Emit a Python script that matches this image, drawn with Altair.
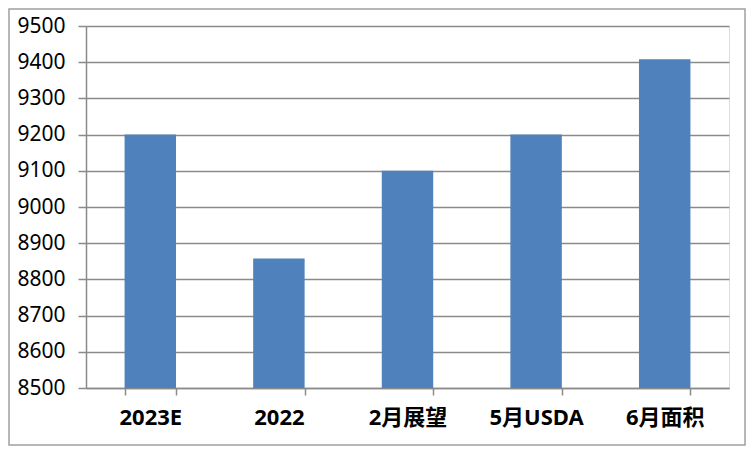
import altair as alt
import pandas as pd

categories = ["2023E", "2022", "2月展望", "5月USDA", "6月面积"]
values = [9200, 8858, 9100, 9200, 9408]
y_ticks = [8500, 8600, 8700, 8800, 8900, 9000, 9100, 9200, 9300, 9400, 9500]

df = pd.DataFrame({"cat": categories, "val": values})

W, H = 643, 362
PL, PT = 78, 18
TOTAL_W, TOTAL_H = 738, 438

bars = alt.Chart(df).mark_bar(color="#4F81BD", clip=True).encode(
    x=alt.X("cat:N", sort=categories, title=None,
            scale=alt.Scale(paddingInner=0.6, paddingOuter=0.3),
            axis=alt.Axis(labelAngle=0, labelFont="Noto Sans, Noto Sans CJK SC",
                          labelFontSize=22, labelFontWeight="bold", labelColor="#000",
                          labelPadding=12, tickBand="extent", tickSize=7,
                          tickColor="#8a8a8a", domainColor="#8a8a8a",
                          tickWidth=1.5, domainWidth=1.5, grid=False)),
    y=alt.Y("val:Q", title=None,
            scale=alt.Scale(domain=[8500, 9500], nice=False, zero=False),
            axis=alt.Axis(values=y_ticks, format="d", labelFont="Noto Sans", labelFontSize=21,
                          labelColor="#000", labelPadding=13, tickSize=8,
                          tickColor="#8a8a8a", domainColor="#8a8a8a",
                          tickWidth=1.5, domainWidth=1.5,
                          grid=True, gridColor="#8a8a8a", gridWidth=1.6)),
)

border = alt.Chart(pd.DataFrame({"a": [0]})).mark_rect(
    fill=None, stroke="#a0a0a0", strokeWidth=1.5
).encode(
    x=alt.value(-PL + 1), x2=alt.value(TOTAL_W - PL - 1),
    y=alt.value(-PT + 1), y2=alt.value(TOTAL_H - PT - 1),
)

chart = alt.layer(bars, border).properties(
    width=W, height=H,
    autosize=alt.AutoSizeParams(type="none"),
    padding={"left": PL, "top": PT, "right": TOTAL_W - PL - W, "bottom": TOTAL_H - PT - H},
).configure_view(stroke=None).configure(background="white")

chart.save("out.html", embed_options={"renderer": "svg", "actions": False})
